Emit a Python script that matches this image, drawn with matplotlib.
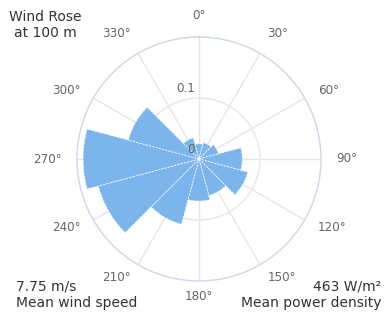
import numpy as np
import matplotlib
matplotlib.use('Agg')
import matplotlib.pyplot as plt

# Direction bins (deg) and relative frequency
directions = [0, 30, 60, 90, 120, 150, 180, 210, 240, 270, 300, 330]
frequency = [0.025, 0.028, 0.033, 0.071, 0.083, 0.062, 0.069, 0.111, 0.171, 0.19, 0.12, 0.036]
dir_labels = [f'{d}°' for d in directions]
radial_ticks = [0, 0.1]
radial_labels = ['0', '0.1']
r_max = 0.2

title_lines = 'Wind Rose\nat 100 m'
speed_text = '7.75 m/s\nMean wind speed'
power_value = '463 W/m²'
power_caption = 'Mean power density'

plt.rcParams['font.family'] = ['DejaVu Sans']

fig = plt.figure(figsize=(3.88, 3.12), dpi=100)
ax = fig.add_axes([77 / 388, 31 / 312, 244 / 388, 244 / 312], projection='polar')
ax.set_theta_zero_location('N')
ax.set_theta_direction(-1)
ax.set_ylim(0, r_max)

theta = np.deg2rad(directions)
ax.bar(theta, frequency, width=np.deg2rad(30), color='#7cb5ec',
       edgecolor='white', linewidth=0.6, linestyle=(0, (2, 2)), zorder=3)

# Grid
ax.set_xticks(theta)
ax.set_xticklabels([])
ax.set_yticks([0.1])
ax.set_yticklabels([])
ax.grid(True, color='#e6e6e6', linewidth=1.0)
ax.spines['polar'].set_color('#ccd6eb')
ax.spines['polar'].set_linewidth(1.0)
ax.tick_params(length=0)

# Direction labels outside the circle
for t, lab in zip(theta, dir_labels):
    s, c = np.sin(t), np.cos(t)
    ha = 'left' if s > 0.1 else ('right' if s < -0.1 else 'center')
    va = 'bottom' if c > 0.8 else 'center'
    ax.annotate(lab, xy=(t, r_max), xytext=(15 * s, 15 * c),
                textcoords='offset pixels', ha=ha, va=va,
                fontsize=8.6, color='#666666', annotation_clip=False)

# Radial labels along the north axis
for r, lab in zip(radial_ticks, radial_labels):
    ax.annotate(lab, xy=(0, r), xytext=(-4, 3), textcoords='offset pixels',
                ha='right', va='bottom', fontsize=8.6, color='#666666',
                zorder=5, annotation_clip=False)

fig.text(45.5 / 388, 1 - 25 / 312, title_lines, ha='center', va='center',
         fontsize=10, color='#333333', linespacing=1.25)
fig.text(16 / 388, 1 - 295 / 312, speed_text, ha='left', va='center',
         fontsize=10, color='#333333', linespacing=1.25)
fig.text(313 / 388, 1 - 287 / 312, power_value, ha='left', va='center',
         fontsize=10, color='#333333')
fig.text(241 / 388, 1 - 303 / 312, power_caption, ha='left', va='center',
         fontsize=10, color='#333333')

fig.savefig('out.png', dpi=100)
